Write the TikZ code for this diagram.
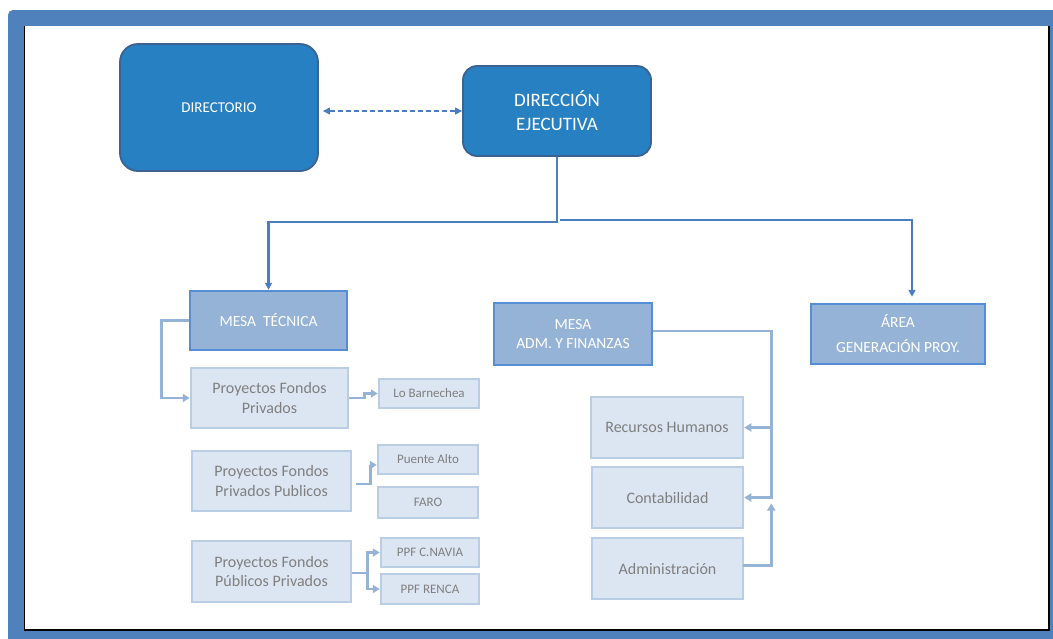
\documentclass[tikz,border=0pt]{standalone}
\usepackage{fontspec}
\setmainfont{Carlito}
\usetikzlibrary{arrows.meta,calc}
\definecolor{framec}{HTML}{4F81BD}
\definecolor{dkfill}{HTML}{2680C2}
\definecolor{dkdraw}{HTML}{3B6290}
\definecolor{conn}{HTML}{4A7EBF}
\definecolor{midfill}{HTML}{95B3D7}
\definecolor{middraw}{HTML}{558ED5}
\definecolor{ltfill}{HTML}{DCE6F2}
\definecolor{ltdraw}{HTML}{B9CDE5}
\definecolor{ltline}{HTML}{95B3D7}
\definecolor{txtgray}{HTML}{7F7F7F}
\begin{document}
\begin{tikzpicture}[x=1pt,y=-1pt,
  dkbox/.style={draw=dkdraw, line width=1.8pt, fill=dkfill, rounded corners=16pt, text=white, align=center, inner sep=0pt},
  midbox/.style={draw=middraw, line width=2.5pt, fill=midfill, text=white, align=center, inner sep=0pt, font=\fontsize{15.5}{19}\selectfont},
  ltbox/.style={draw=ltdraw, line width=2.5pt, fill=ltfill, text=txtgray, align=center, inner sep=0pt, font=\fontsize{16}{19.5}\selectfont},
  smbox/.style={ltbox, font=\fontsize{13}{15}\selectfont},
  dkc/.style={draw=conn, line width=2.2pt},
  dktip/.style={-{Triangle[width=7pt,length=7pt]}},
  ltc/.style={draw=ltline, line width=2.6pt},
  lttip/.style={-{Triangle[width=8pt,length=7pt]}}
]
\useasboundingbox (0,0) rectangle (1053,638);
% frame
\fill[framec, rounded corners=5pt] (8,10) rectangle (1075,660);
\fill[white] (24,26) rectangle (1049,630);
\draw[black, line width=1.2pt] (24.5,26) -- (24.5,630) -- (1049,630) -- (1049,26);

% top nodes
\node[dkbox, minimum width=198pt, minimum height=127pt, rounded corners=18pt, font=\fontsize{15}{18}\selectfont] (dir) at (219,107.5) {DIRECTORIO};
\node[dkbox, minimum width=188pt, minimum height=90pt, rounded corners=14pt, font=\fontsize{19}{24}\selectfont] (de) at (557,111) {DIRECCIÓN\\EJECUTIVA};

% second level
\node[midbox, minimum width=157pt, minimum height=59pt] (mt) at (268.5,320.5) {MESA\ \ TÉCNICA};
\node[midbox, minimum width=158pt, minimum height=62pt] (madm) at (573,334) {MESA\\ADM. Y FINANZAS};
\node[midbox, minimum width=174pt, minimum height=60pt, font=\fontsize{15.5}{25}\selectfont] (area) at (898,334) {ÁREA\\GENERACIÓN PROY.};

% mesa tecnica children
\node[ltbox, minimum width=157pt, minimum height=60pt] (pfp) at (269.5,398) {Proyectos Fondos\\Privados};
\node[smbox, minimum width=100pt, minimum height=29pt] (lob) at (429,393.5) {Lo Barnechea};
\node[ltbox, minimum width=159pt, minimum height=60pt] (pfpp) at (271.5,481) {Proyectos Fondos\\Privados Publicos};
\node[smbox, minimum width=100pt, minimum height=29pt] (pa) at (428,459.5) {Puente Alto};
\node[smbox, minimum width=100pt, minimum height=31pt] (faro) at (428,502.5) {FARO};
\node[ltbox, minimum width=159pt, minimum height=61pt] (pubp) at (271.5,571.5) {Proyectos Fondos\\Públicos Privados};
\node[smbox, minimum width=98pt, minimum height=29pt] (navia) at (430,552.5) {PPF C.NAVIA};
\node[smbox, minimum width=98pt, minimum height=30pt] (renca) at (430,589) {PPF RENCA};

% mesa adm children
\node[ltbox, minimum width=152pt, minimum height=61pt] (rh) at (667,427.5) {Recursos Humanos};
\node[ltbox, minimum width=151pt, minimum height=61pt] (cont) at (667.5,497.5) {Contabilidad};
\node[ltbox, minimum width=151pt, minimum height=61pt] (adm) at (667.5,568.5) {Administración};

% dark connectors
\draw[dkc, line width=1.4pt, dash pattern=on 5pt off 3pt, {Triangle[width=7pt,length=7pt]}-{Triangle[width=7pt,length=7pt]}]
  ($(dir.east |- de.west)+(4,0)$) -- (de.west);
\draw[dkc, dktip] (de.south) -- (de.south |- 0,222) -| (mt.north);
\coordinate (j) at (560,220);
\draw[dkc, dktip] (j) -| ($(area.north)+(14,-6)$);

% light connectors
\draw[ltc, lttip] (mt.west) -- ++(-27,0) |- (pfp.west);
\draw[ltc, lttip] (pfp.east) -- ++(15,0) |- (lob.west);
\draw[ltc, lttip] ($(pfpp.east)+(4,3)$) -- ++(14,0) |- ($(pa.west)+(0,5.5)$);
\draw[ltc, lttip] ($(pubp.east)+(0,1.5)$) -- ++(15,0) coordinate (pj) |- (navia.west);
\draw[ltc, lttip] (pj) |- (renca.west);
\draw[ltc, lttip] ($(madm.east)+(0,-3)$) -- ($(madm.east)+(118,-3)$) |- (cont.east);
\draw[ltc, lttip] ($(rh.east)+(27,0)$) -- (rh.east);
\draw[ltc, lttip] ($(adm.east)+(-1,-3)$) -| ($(cont.east)+(27,6)$);
\end{tikzpicture}
\end{document}
